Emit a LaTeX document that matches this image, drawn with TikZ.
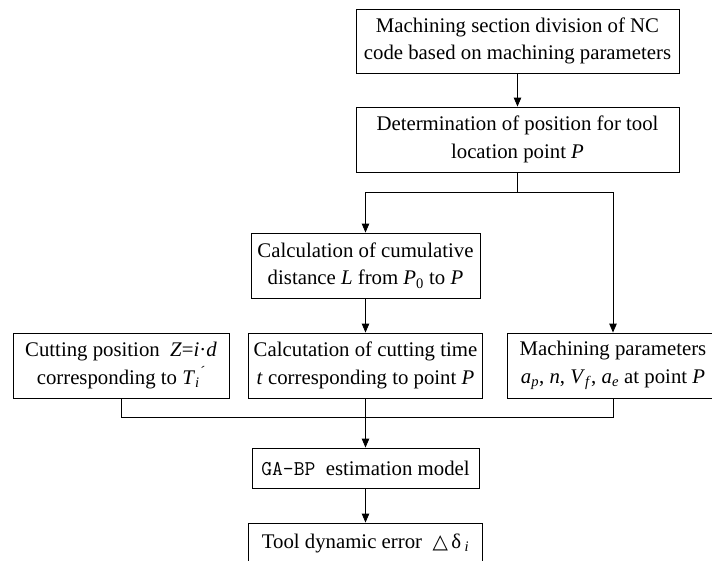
\documentclass[tikz,border=0pt]{standalone}
\usepackage{fontspec}
\setmainfont{Liberation Serif}
\newfontfamily\symfont{DejaVu Sans}
\usetikzlibrary{arrows.meta}
% T with subscript i followed by a prime
\newcommand{\Tiprime}{\textit{T}\textsubscript{\textit{i}}\textsuperscript{\textit{´}}}
\begin{document}
\begin{tikzpicture}[x=1pt,y=-1pt,
  box/.style={draw, line width=0.9pt, inner sep=0pt, align=center,
    font=\fontsize{20.8}{27.5}\selectfont},
  arr/.style={line width=0.9pt, -{Triangle[length=9pt,width=7.5pt]}},
  link/.style={line width=0.9pt}]
\clip (0,0) rectangle (712,560);
\fill[white] (0,0) rectangle (712,560);

% top chain
\node[box, minimum width=323pt, minimum height=64pt] (b1) at (517.5,41)
  {Machining section division of NC\\code based on machining parameters};
\node[box, minimum width=323pt, minimum height=65pt] (b2) at (517.5,139.5)
  {Determination of position for tool\\location point \textit{P}};

% middle column
\node[box, minimum width=229pt, minimum height=65pt] (b3) at (365.5,265.5)
  {Calculation of cumulative\\distance \textit{L} from \textit{P}\textsubscript{0} to \textit{P}};
\node[box, minimum width=234pt, minimum height=65pt] (b4) at (365.5,365.5)
  {Calcutation of cutting time\\\textit{t} corresponding to point \textit{P}};

% side boxes
\node[box, minimum width=216pt, minimum height=65pt] (b6) at (121,365.5)
  {Cutting position\ \ \textit{Z}=\textit{i}·\textit{d}\\corresponding to \Tiprime};
\node[box, minimum width=212pt, minimum height=65pt] (b5) at (613,365.5)
  {Machining parameters\\\textit{a}\textsubscript{\textit{p}}, \textit{n}, \textit{V}\textsubscript{\textit{f}}, \textit{a}\textsubscript{\textit{e}} at point \textit{P}};

% model and result
\node[box, minimum width=227pt, minimum height=40pt] (b7) at (365.5,468)
  {{\ttfamily\fontsize{21}{24}\selectfont GA-BP}\ \ estimation model};
\node[box, minimum width=234pt, minimum height=40pt] (b8) at (365.5,543)
  {Tool dynamic error\ \ {\symfont\fontsize{20}{22}\selectfont △}\,δ\,\textsubscript{\textit{i}}};

% fork below the position box
\coordinate (fork) at (517.5,192);
\coordinate (forkL) at (365.5,192);
\coordinate (forkR) at (613,192);
% join above the model box
\coordinate (joinL) at (121,417);
\coordinate (joinR) at (613,417);

\draw[arr] (b1) -- (b2);
\draw[link] (b2) -- (fork);
\draw[link] (forkL) -- (forkR);
\draw[arr] (forkL) -- (b3);
\draw[arr] (forkR) -- (b5);
\draw[arr] (b3) -- (b4);
\draw[link] (b6.south) -- (joinL) -- (joinR) -- (b5.south);
\draw[arr] (b4) -- (b7);
\draw[arr] (b7) -- (b8);
\end{tikzpicture}
\end{document}
